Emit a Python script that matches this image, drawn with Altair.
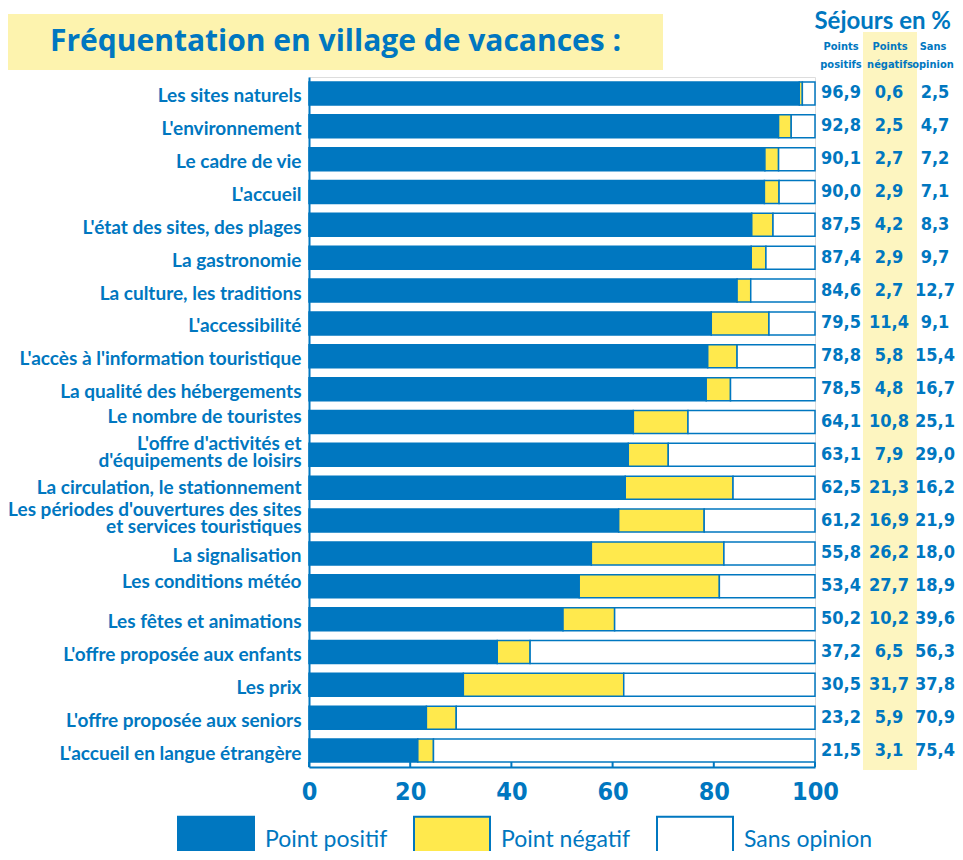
import altair as alt
import pandas as pd

categories = [
    "Les sites naturels",
    "L'environnement",
    "Le cadre de vie",
    "L'accueil",
    "L'état des sites, des plages",
    "La gastronomie",
    "La culture, les traditions",
    "L'accessibilité",
    "L'accès à l'information touristique",
    "La qualité des hébergements",
    "Le nombre de touristes",
    "L'offre d'activités et|d'équipements de loisirs",
    "La circulation, le stationnement",
    "Les périodes d'ouvertures des sites|et services touristiques",
    "La signalisation",
    "Les conditions météo",
    "Les fêtes et animations",
    "L'offre proposée aux enfants",
    "Les prix",
    "L'offre proposée aux seniors",
    "L'accueil en langue étrangère",
]
positifs = [96.9, 92.8, 90.1, 90.0, 87.5, 87.4, 84.6, 79.5, 78.8, 78.5, 64.1,
            63.1, 62.5, 61.2, 55.8, 53.4, 50.2, 37.2, 30.5, 23.2, 21.5]
negatifs = [0.6, 2.5, 2.7, 2.9, 4.2, 2.9, 2.7, 11.4, 5.8, 4.8, 10.8,
            7.9, 21.3, 16.9, 26.2, 27.7, 10.2, 6.5, 31.7, 5.9, 3.1]
sans_opinion = [2.5, 4.7, 7.2, 7.1, 8.3, 9.7, 12.7, 9.1, 15.4, 16.7, 25.1,
                29.0, 16.2, 21.9, 18.0, 18.9, 39.6, 56.3, 37.8, 70.9, 75.4]
series = ["Point positif", "Point négatif", "Sans opinion"]
tick_values = [0, 20, 40, 60, 80, 100]

BLUE = "#0077C0"
YELLOW = "#FFE94D"
PALE = "#FDF5C0"
NARROW = "DejaVu Sans Condensed"
LABEL_FONT = "Lato"
TITLE_FONT = "Open Sans"

rows = []
for i, c in enumerate(categories):
    for j, (s, vals) in enumerate(zip(series, [positifs, negatifs, sans_opinion])):
        rows.append({"cat": c, "serie": s, "v": vals[i], "ord": j})
df = pd.DataFrame(rows)

W, H = 506, 690

ysc = alt.Scale(domain=categories, paddingInner=0.30, paddingOuter=0.15)

# pale column behind the "Points négatifs" values
col_bg = alt.Chart(pd.DataFrame({"a": [0]})).mark_rect(color=PALE).encode(
    x=alt.value(554), x2=alt.value(608), y=alt.value(-45), y2=alt.value(693)
)

title_box = alt.Chart(pd.DataFrame({"a": [0]})).mark_rect(color="#FDF3AE").encode(
    x=alt.value(-301), x2=alt.value(354), y=alt.value(-63), y2=alt.value(-7)
)
title_txt = alt.Chart(pd.DataFrame({"t": ["Fréquentation en village de vacances :"]})).mark_text(
    font=TITLE_FONT, fontWeight="bold", fontSize=30, color=BLUE, align="left", baseline="middle"
).encode(text="t:N", x=alt.value(-259), y=alt.value(-35))

sej_txt = alt.Chart(pd.DataFrame({"t": ["Séjours en %"]})).mark_text(
    font=LABEL_FONT, fontWeight="bold", fontSize=24, color=BLUE, align="right", baseline="middle"
).encode(text="t:N", x=alt.value(642), y=alt.value(-55))

COLS = [532, 580, 626]
HEAD_X = [532, 581, 624]

headers = []
for xpos, l1, l2 in [(HEAD_X[0], "Points", "positifs"), (HEAD_X[1], "Points", "négatifs"), (HEAD_X[2], "Sans", "opinion")]:
    for ypos, t in [(-30, l1), (-12, l2)]:
        headers.append(
            alt.Chart(pd.DataFrame({"t": [t]})).mark_text(
                font=NARROW, fontWeight="bold", fontSize=11, color=BLUE, align="center", baseline="middle"
            ).encode(text="t:N", x=alt.value(xpos), y=alt.value(ypos))
        )

label_offset = {
    "condition": [
        {"test": "indexof(datum.value, '|') >= 0", "value": -11},
        {"test": "datum.value == 'Le nombre de touristes'", "value": -5},
        {"test": "datum.value == 'Les conditions météo'", "value": -4},
        {"test": "datum.value == 'La circulation, le stationnement'", "value": 0},
    ],
    "value": 3,
}

bars = alt.Chart(df).mark_bar(stroke=BLUE, strokeWidth=1.5).encode(
    y=alt.Y("cat:N", scale=ysc, sort=categories, title=None,
            axis=alt.Axis(labelExpr="split(datum.label, '|')", ticks=False, domain=True,
                          domainColor=BLUE, domainWidth=2, labelPadding=8,
                          labelFont=LABEL_FONT, labelFontWeight="bold", labelFontSize=19,
                          labelColor=BLUE, labelLineHeight=17, labelLimit=300,
                          labelOffset=label_offset)),
    x=alt.X("v:Q", stack="zero", scale=alt.Scale(domain=[0, 100], nice=False), title=None,
            axis=alt.Axis(values=tick_values, ticks=False, grid=False, domainColor=BLUE,
                          domainWidth=2, labelPadding=12, labelFont=NARROW, labelFontWeight="bold",
                          labelFontSize=25, labelColor=BLUE, labelFlush=False)),
    fill=alt.Fill("serie:N", scale=alt.Scale(domain=series, range=[BLUE, YELLOW, "#FFFFFF"]),
                  legend=alt.Legend(title=None, orient="none", legendX=-132, legendY=724,
                                    direction="horizontal", padding=0,
                                    symbolType="M-1,-0.62H1V0.62H-1Z", symbolSize=5776,
                                    symbolStrokeColor=BLUE, symbolStrokeWidth=2,
                                    symbolOpacity=1,
                                    labelFont=LABEL_FONT, labelFontSize=23, labelColor=BLUE,
                                    labelOffset=10, columnPadding=22, labelLimit=300)),
    order=alt.Order("ord:Q"),
)

ticks = alt.Chart(pd.DataFrame({"t": tick_values})).mark_rule(color=BLUE, strokeWidth=2).encode(
    x=alt.X("t:Q"), y=alt.value(H - 5), y2=alt.value(H)
)

value_layers = []
for s, xpos in zip(series, COLS):
    value_layers.append(
        alt.Chart(df).transform_filter(alt.datum.serie == s).transform_calculate(
            lab="replace(format(datum.v, '.1f'), '.', ',')"
        ).mark_text(font=NARROW, fontWeight="bold", fontSize=18, color=BLUE,
                    align="center", baseline="middle").encode(
            y=alt.Y("cat:N", scale=ysc, sort=categories),
            x=alt.value(xpos),
            text="lab:N",
        )
    )

chart = alt.layer(
    col_bg, title_box, title_txt, sej_txt, *headers, bars, ticks, *value_layers
).properties(
    width=W, height=H,
    autosize=alt.AutoSizeParams(type="none"),
    padding={"left": 301, "top": 69, "right": 140, "bottom": 84},
).configure_view(stroke=None).configure(background="white")

chart.save("out.html", embed_options={"renderer": "svg", "actions": False})
